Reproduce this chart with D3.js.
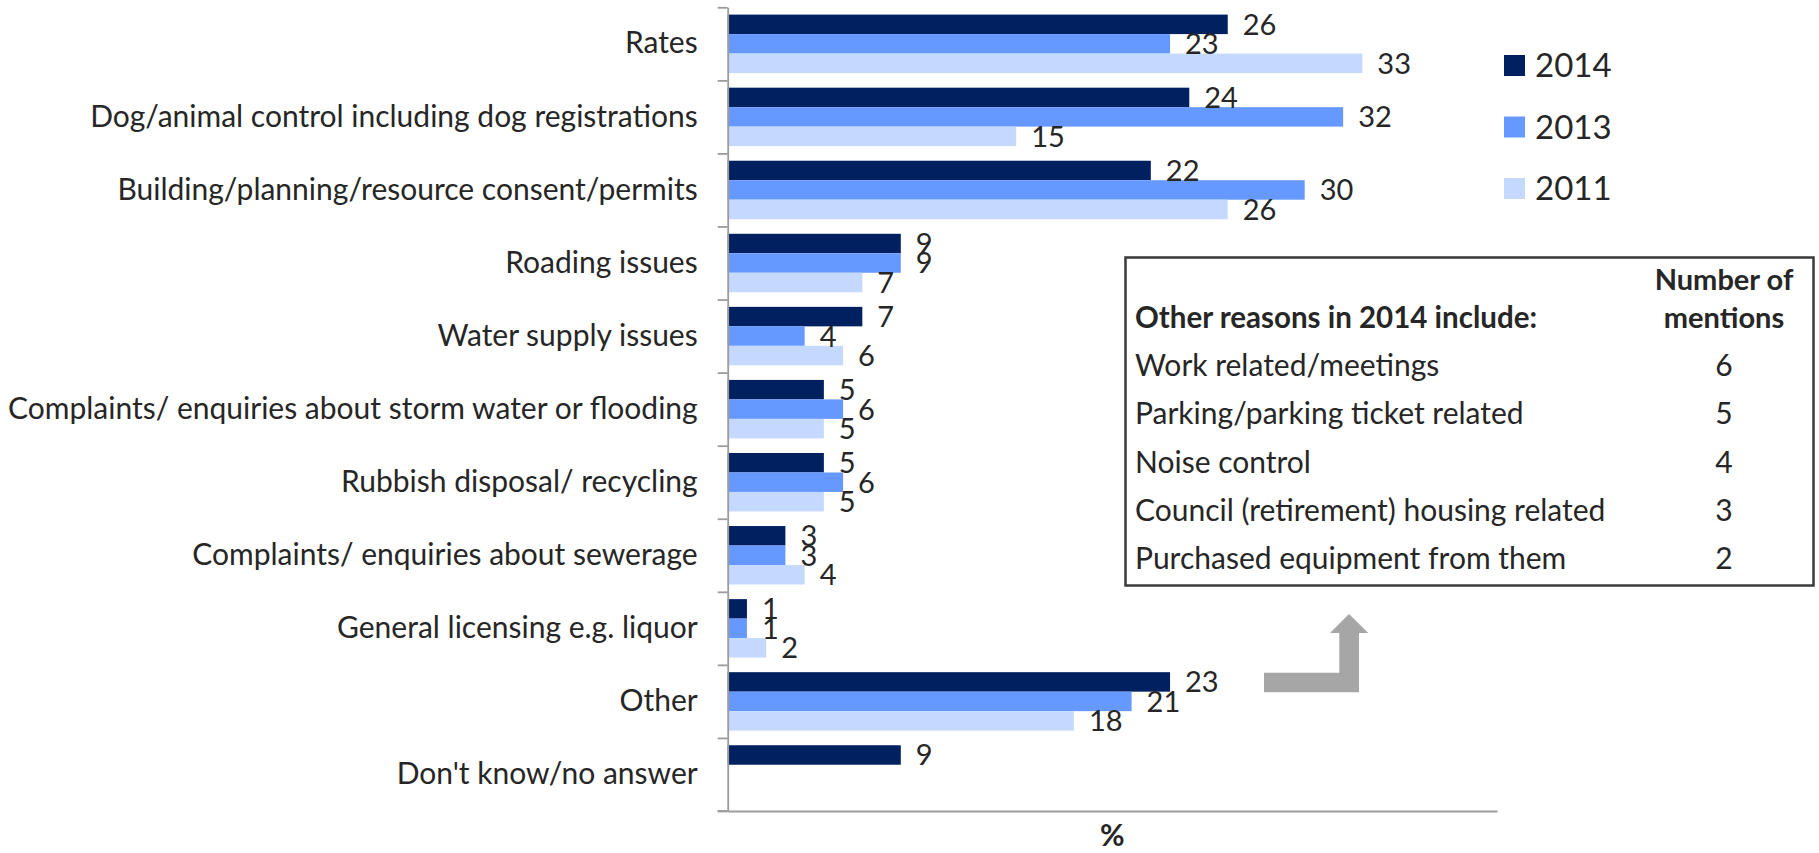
<!DOCTYPE html>
<html>
<head>
<meta charset="utf-8">
<script src="https://cdn.jsdelivr.net/npm/d3@7/dist/d3.min.js"></script>
<style>
  html, body { margin: 0; padding: 0; background: #fff; }
  svg { display: block; }
  text { font-family: Lato, "Open Sans", sans-serif; fill: #262626; }
</style>
</head>
<body>
<svg id="chart" width="1819" height="853"></svg>
<script>
// ---- data ----
const categories = [
  "Rates",
  "Dog/animal control including dog registrations",
  "Building/planning/resource consent/permits",
  "Roading issues",
  "Water supply issues",
  "Complaints/ enquiries about storm water or flooding",
  "Rubbish disposal/ recycling",
  "Complaints/ enquiries about sewerage",
  "General licensing e.g. liquor",
  "Other",
  "Don't know/no answer"
];
const seriesNames = ["2014", "2013", "2011"];
const values2014 = [26, 24, 22, 9, 7, 5, 5, 3, 1, 23, 9];
const values2013 = [23, 32, 30, 9, 4, 6, 6, 3, 1, 21, null];
const values2011 = [33, 15, 26, 7, 6, 5, 5, 4, 2, 18, null];
const seriesColors = ["#002060", "#6699FF", "#C5D9FF"];
const axisTitle = "%";

const boxTitle = "Other reasons in 2014 include:";
const boxColTitle = ["Number of", "mentions"];
const otherReasons = [
  "Work related/meetings",
  "Parking/parking ticket related",
  "Noise control",
  "Council (retirement) housing related",
  "Purchased equipment from them"
];
const otherMentions = [6, 5, 4, 3, 2];

// ---- layout ----
const svg = d3.select("#chart");
const x0 = 727.7, x1 = 1497, yTop = 7.3, yBot = 811;
const axisColor = "#9c9c9c";

const x = d3.scaleLinear().domain([0, 40]).range([x0, x1]);
const y = d3.scaleBand().domain(categories).range([yTop, yBot])
  .paddingInner(0.2).paddingOuter(0.1);
const ySub = d3.scaleBand().domain(seriesNames).range([0, y.bandwidth()]);
const yBound = d3.scaleLinear().domain([0, categories.length]).range([yTop, yBot]);

const seriesValues = [values2014, values2013, values2011];
const rows = [];
categories.forEach((c, i) => {
  seriesNames.forEach((s, j) => {
    const v = seriesValues[j][i];
    if (v !== null && v !== undefined) rows.push({cat: c, series: s, value: v, color: seriesColors[j]});
  });
});

// bars
svg.append("g").selectAll("rect").data(rows).join("rect")
  .attr("x", x(0))
  .attr("y", d => y(d.cat) + ySub(d.series))
  .attr("width", d => x(d.value) - x(0))
  .attr("height", ySub.bandwidth())
  .attr("fill", d => d.color);

// value labels
svg.append("g").selectAll("text").data(rows).join("text")
  .attr("x", d => x(d.value) + 15)
  .attr("y", d => y(d.cat) + ySub(d.series) + ySub.bandwidth() / 2)
  .attr("dy", "0.36em")
  .style("font-size", "29px")
  .text(d => d.value);

// y axis with boundary ticks
const yAxisG = svg.append("g").attr("transform", `translate(${x0},0)`)
  .call(d3.axisLeft(yBound).tickValues(d3.range(categories.length + 1)).tickFormat("").tickSize(10).tickSizeOuter(0));
yAxisG.selectAll("path, line").attr("stroke", axisColor).attr("stroke-width", 1.8);

// category labels
const catAxis = svg.append("g").attr("transform", `translate(${x0},0)`)
  .call(d3.axisLeft(y).tickSize(0).tickPadding(30));
catAxis.select(".domain").remove();
catAxis.selectAll("text").style("font-size", "30px").style("font-family", "Lato, sans-serif").attr("fill", "#262626");

// x axis line
const xAxisG = svg.append("g").attr("transform", `translate(0,${yBot})`)
  .call(d3.axisBottom(x).tickValues([]).tickSizeOuter(0));
xAxisG.select(".domain").attr("stroke", axisColor).attr("stroke-width", 1.8);
xAxisG.append("line").attr("x1", x0 - 10).attr("x2", x0).attr("y1", 0).attr("y2", 0)
  .attr("stroke", axisColor).attr("stroke-width", 1.8);

// axis title
svg.append("text").attr("x", (x0 + x1) / 2).attr("y", 846)
  .attr("text-anchor", "middle").style("font-size", "30px").style("font-weight", "bold")
  .text(axisTitle);

// legend
const legend = svg.append("g").attr("transform", "translate(1504,55)");
seriesNames.forEach((s, j) => {
  const g = legend.append("g").attr("transform", `translate(0,${j * 61.5})`);
  g.append("rect").attr("width", 21).attr("height", 21).attr("fill", seriesColors[j]);
  g.append("text").attr("x", 31).attr("y", 10.5).attr("dy", "0.36em")
    .style("font-size", "33px").text(s);
});

// other reasons box
const box = svg.append("g");
box.append("rect").attr("x", 1125.5).attr("y", 257.5).attr("width", 688).attr("height", 328)
  .attr("fill", "#fff").attr("stroke", "#3a3a3a").attr("stroke-width", 2.5);
box.append("text").attr("x", 1135).attr("y", 328).style("font-size", "29.5px").style("font-weight", "bold").text(boxTitle);
boxColTitle.forEach((t, i) => {
  box.append("text").attr("x", 1724).attr("y", 290 + i * 38).attr("text-anchor", "middle")
    .style("font-size", "29px").style("font-weight", "bold").text(t);
});
otherReasons.forEach((r, i) => {
  const by = 376 + i * 48.3;
  box.append("text").attr("x", 1135).attr("y", by).style("font-size", "30px").text(r);
  box.append("text").attr("x", 1724).attr("y", by).attr("text-anchor", "middle").style("font-size", "30px").text(otherMentions[i]);
});

// arrow
svg.append("path")
  .attr("d", "M1264,672.7 L1339.3,672.7 L1339.3,633 L1330,633 L1349,614 L1368.3,633 L1359,633 L1359,692.3 L1264,692.3 Z")
  .attr("fill", "#a6a6a6");
</script>
</body>
</html>
